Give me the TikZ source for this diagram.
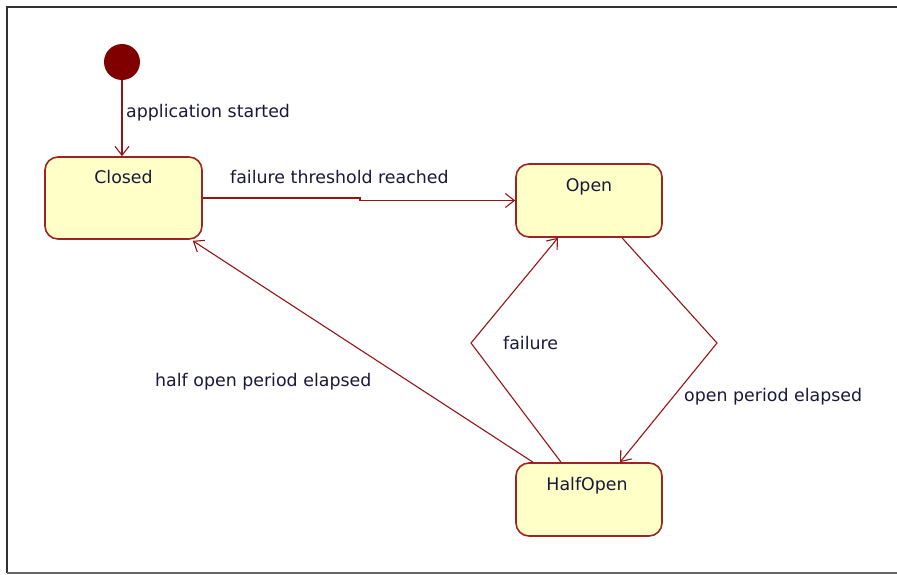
\documentclass[tikz,border=0pt]{standalone}
\usepackage{fontspec}
\setmainfont{DejaVu Sans}
\usetikzlibrary{arrows.meta,calc}
\definecolor{maroonc}{RGB}{128,0,0}
\definecolor{edgec}{RGB}{150,20,20}
\definecolor{statefill}{RGB}{255,255,200}
\definecolor{stateborder}{RGB}{160,35,35}
\definecolor{txtc}{RGB}{25,25,60}
\definecolor{framec}{RGB}{50,50,50}
\tikzset{
  statebox/.style={draw=stateborder, fill=statefill, line width=1.6pt, rounded corners=13pt, inner sep=0pt},
  statename/.style={anchor=base, text=txtc, font=\fontsize{17.4}{20}\selectfont, inner sep=0pt},
  edgelabel/.style={text=txtc, font=\fontsize{17.4}{20}\selectfont, inner sep=0pt},
  conn/.style={draw=edgec, line width=1.1pt, -{Straight Barb[length=9pt,width=14pt,line width=1.1pt]}},
  initstate/.style={circle, fill=maroonc, minimum size=36pt, inner sep=0pt},
  framel/.style={draw=framec, line width=1.8pt}
}
\begin{document}
\begin{tikzpicture}[x=1pt,y=-1pt]
\useasboundingbox (0,0) rectangle (897,575);
% frame
\coordinate (ftl) at (7,7);
\coordinate (ftr) at (897,7);
\coordinate (fbl) at (7,573);
\coordinate (fbr) at (897,573);
\draw[framel] (ftr) -- (ftl) -- (fbl);
\draw[draw=gray!80!black, line width=1.8pt] (fbl) -- (fbr);
% states
\node[initstate] (init) at (122,62) {};
\node[statebox, minimum width=157pt, minimum height=82pt] (closed) at (123.5,198) {};
\node[statename] (closedname) at ($(closed.north)+(0,27)$) {Closed};
\node[statebox, minimum width=146pt, minimum height=73pt] (open) at (589,200.5) {};
\node[statename] (openname) at ($(open.north)+(0,28)$) {Open};
\node[statebox, minimum width=146pt, minimum height=73pt] (halfopen) at (589,499.5) {};
\node[statename] (halfopenname) at ($(halfopen.north)+(-2,28)$) {HalfOpen};
% bend points
\coordinate (k1) at (360,198);
\coordinate (k2) at (360,200.5);
\coordinate (bendR) at (717,343);
\coordinate (bendL) at (471,343);
% connectors
\draw[conn] (init.south) -- (init.south |- closed.north);
\draw[conn] (closed.east) -- (k1) -- (k2) -- (open.west);
\draw[conn] ($(open.south)+(33,0)$) -- (bendR) -- ($(halfopen.north)+(31,0)$);
\draw[conn] ($(halfopen.north)+(-28,0)$) -- (bendL) -- ($(open.south)+(-31,0)$);
\draw[conn] ($(halfopen.north)+(-56,0)$) -- ($(closed.south east)+(-10,1)$);
% labels
\node[edgelabel, anchor=base west] (l1) at (126,118) {application started};
\node[edgelabel, anchor=base west] (l2) at (230,183) {failure threshold reached};
\node[edgelabel, anchor=base west] (l3) at (503,349) {failure};
\node[edgelabel, anchor=base west] (l4) at (684,401) {open period elapsed};
\node[edgelabel, anchor=base west] (l5) at (155,386) {half open period elapsed};
\end{tikzpicture}
\end{document}
